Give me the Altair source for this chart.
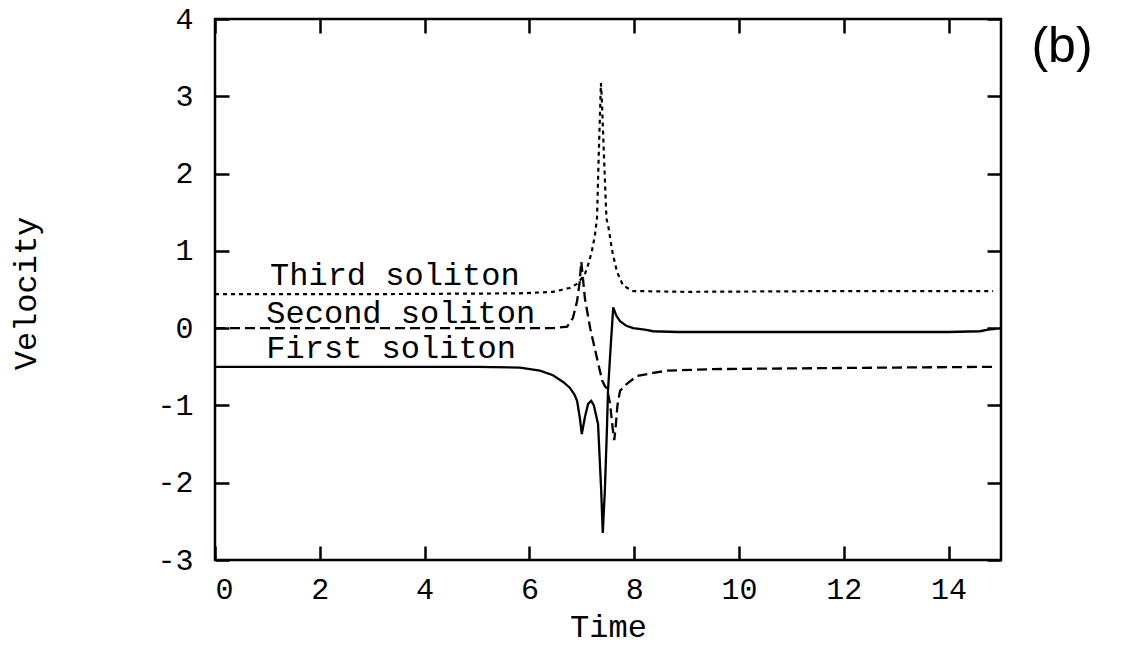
import altair as alt
import pandas as pd

# ---- data ----
t_first = [0, 2, 4, 5, 5.82, 6.2, 6.45, 6.65, 6.77, 6.86, 6.91, 6.96, 7.0, 7.06, 7.12, 7.18, 7.23, 7.31, 7.37, 7.40,
           7.44, 7.48, 7.50, 7.55, 7.60, 7.66, 7.73, 7.85, 7.98, 8.2, 8.36, 8.82, 10, 11, 12, 13, 14, 14.6, 14.75, 14.9]
v_first = [-0.5, -0.5, -0.5, -0.5, -0.51, -0.55, -0.61, -0.7, -0.77, -0.86, -0.94, -1.15, -1.37, -1.15, -0.98, -0.94,
           -1.0, -1.24, -2.1, -2.65, -2.1, -1.3, -0.81, -0.25, 0.27, 0.16, 0.09, 0.03, 0.0, -0.02, -0.04, -0.05, -0.05,
           -0.05, -0.05, -0.05, -0.05, -0.04, -0.02, -0.01]

t_second = [0, 3, 5, 6, 6.45, 6.72, 6.83, 6.91, 6.96, 6.99, 7.06, 7.16, 7.29, 7.39, 7.44, 7.48, 7.54, 7.59, 7.62, 7.65,
            7.68, 7.73, 7.86, 8.05, 8.36, 8.63, 9.5, 11.2, 13, 14.85]
v_second = [0, 0, 0, 0, 0.0, 0.02, 0.13, 0.35, 0.6, 0.86, 0.38, 0.0, -0.39, -0.68, -0.75, -0.78, -0.98, -1.3, -1.45,
            -1.25, -1.0, -0.81, -0.72, -0.62, -0.58, -0.55, -0.53, -0.52, -0.51, -0.5]

t_third = [0, 3, 5.82, 6.45, 6.77, 6.9, 6.98, 7.06, 7.13, 7.19, 7.25, 7.29, 7.325, 7.365, 7.38, 7.42, 7.47, 7.51,
           7.58, 7.67, 7.79, 7.98, 9, 12, 14.85]
v_third = [0.44, 0.44, 0.45, 0.47, 0.52, 0.57, 0.63, 0.7, 0.84, 0.99, 1.2, 1.42, 2.28, 3.17, 3.0, 2.28, 1.42, 1.3,
           1.0, 0.73, 0.55, 0.48, 0.47, 0.48, 0.48]

label_text = ["Third soliton", "Second soliton", "First soliton"]
label_t = [1.05, 0.98, 0.98]
label_v = [0.69, 0.19, -0.26]

x_ticks = [0, 2, 4, 6, 8, 10, 12, 14]
y_ticks = [-3, -2, -1, 0, 1, 2, 3, 4]
panel_tag = ["(b)"]

FONT = "Liberation Mono"

df1 = pd.DataFrame({"t": t_first, "v": v_first})
df2 = pd.DataFrame({"t": t_second, "v": v_second})
df3 = pd.DataFrame({"t": t_third, "v": v_third})
dfl = pd.DataFrame({"t": label_t, "v": label_v, "label": label_text})
dft = pd.DataFrame({"tag": panel_tag})

xs = alt.Scale(domain=[0, 15], nice=False, zero=False)
ys = alt.Scale(domain=[-3, 4], nice=False, zero=False)

lab_expr = "datum.value < 0 ? '-' + abs(datum.value) : '' + datum.value"

ax_bottom = alt.Axis(values=x_ticks, orient="bottom", ticks=False, tickSize=0, domain=False, grid=False,
                     labelFont=FONT, labelFontSize=30, labelColor="black", labelPadding=14,
                     labelExpr=lab_expr, title="Time", titleFont=FONT, titleFontSize=32,
                     titleFontWeight="normal", titleColor="black", titleX=393, titleY=66,
                     titleBaseline="middle", titleAlign="center")
ax_left = alt.Axis(values=y_ticks, orient="left", ticks=False, tickSize=0, domain=False, grid=False,
                   labelFont=FONT, labelFontSize=30, labelColor="black", labelPadding=22,
                   labelExpr=lab_expr, title="Velocity", titleFont=FONT, titleFontSize=32,
                   titleFontWeight="normal", titleColor="black", titleAngle=270, titleX=-190, titleY=274,
                   titleBaseline="middle", titleAlign="center")


def tick_axis(vals, orient):
    return alt.Axis(values=vals, orient=orient, offset=-14, tickSize=14, tickWidth=2.5, tickColor="black",
                    labels=False, domain=False, grid=False, title=None)


first = alt.Chart(df1).mark_line(color="black", strokeWidth=2.3).encode(
    x=alt.X("t:Q", scale=xs, axis=ax_bottom),
    y=alt.Y("v:Q", scale=ys, axis=ax_left),
)
second = alt.Chart(df2).mark_line(color="black", strokeWidth=2.3, strokeDash=[10, 5]).encode(
    x=alt.X("t:Q", scale=xs, axis=tick_axis(x_ticks, "bottom")),
    y=alt.Y("v:Q", scale=ys, axis=tick_axis(y_ticks, "left")),
)
third = alt.Chart(df3).mark_line(color="black", strokeWidth=2.2, strokeDash=[4, 4]).encode(
    x=alt.X("t:Q", scale=xs, axis=tick_axis(x_ticks, "top")),
    y=alt.Y("v:Q", scale=ys, axis=tick_axis(y_ticks, "right")),
)
labels = alt.Chart(dfl).mark_text(font=FONT, fontSize=32, align="left", baseline="middle", color="black").encode(
    x=alt.X("t:Q", scale=xs, axis=None),
    y=alt.Y("v:Q", scale=ys, axis=None),
    text="label:N",
)
tag = alt.Chart(dft).mark_text(font="Liberation Sans", fontSize=50, align="center", baseline="middle",
                               color="black").encode(
    x=alt.value(847), y=alt.value(28), text="tag:N"
)

chart = alt.layer(first, second, third, labels, tag).resolve_axis(x="independent", y="independent").properties(
    width=786, height=541,
    background="white",
    autosize=alt.AutoSizeParams(type="none"),
    padding={"left": 207, "top": 11, "right": 100, "bottom": 86},
).configure_view(stroke="black", strokeWidth=2.5)

chart.save("out.html", embed_options={"renderer": "svg", "actions": False})
